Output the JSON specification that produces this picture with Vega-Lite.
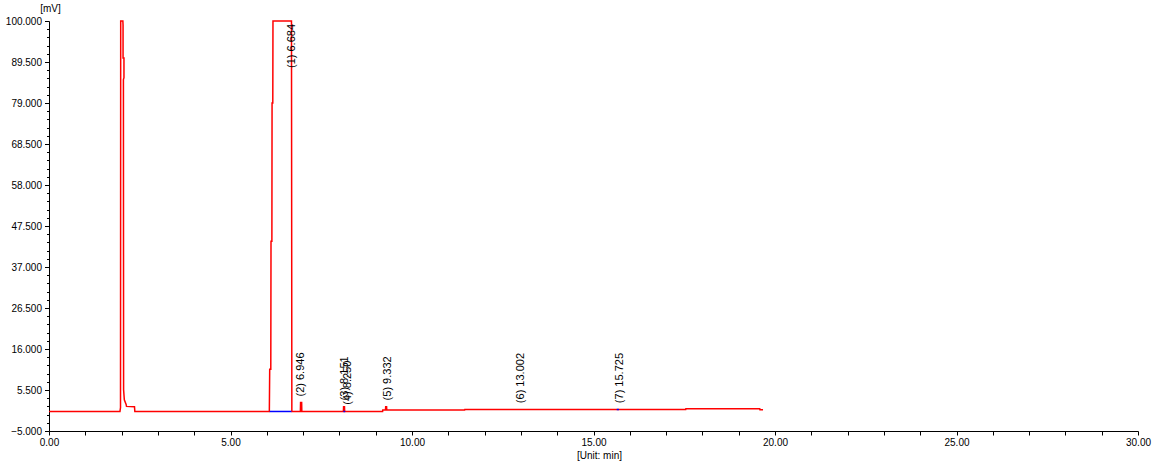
{
  "$schema": "https://vega.github.io/schema/vega-lite/v6.json",
  "autosize": "none",
  "padding": {"left": 49, "top": 21, "right": 18, "bottom": 35},
  "width": 1089,
  "height": 410,
  "background": "white",
  "config": {
    "view": {"stroke": null},
    "font": "Liberation Sans",
    "axis": {
      "domainColor": "black",
      "tickColor": "black",
      "labelColor": "black",
      "titleColor": "black",
      "labelFont": "Liberation Sans",
      "titleFont": "Liberation Sans",
      "labelFontSize": 10,
      "titleFontSize": 10,
      "titleFontWeight": "normal",
      "grid": false,
      "labelFlush": false
    }
  },
  "resolve": {"axis": {"x": "independent", "y": "independent"}},
  "datasets": {
    "trace": [
      {"t": 0, "mV": 0},
      {"t": 1.955, "mV": 0},
      {"t": 1.97, "mV": 1},
      {"t": 1.975, "mV": 100},
      {"t": 2.035, "mV": 100},
      {"t": 2.04, "mV": 99},
      {"t": 2.04, "mV": 90.5},
      {"t": 2.065, "mV": 90.5},
      {"t": 2.065, "mV": 85.5},
      {"t": 2.05, "mV": 85},
      {"t": 2.055, "mV": 5.6},
      {"t": 2.075, "mV": 3},
      {"t": 2.125, "mV": 1.8},
      {"t": 2.135, "mV": 1.3},
      {"t": 2.355, "mV": 1.2},
      {"t": 2.365, "mV": 0},
      {"t": 6.07, "mV": 0},
      {"t": 6.08, "mV": 10.8},
      {"t": 6.11, "mV": 10.8},
      {"t": 6.116, "mV": 43.6},
      {"t": 6.14, "mV": 43.6},
      {"t": 6.145, "mV": 79},
      {"t": 6.165, "mV": 79},
      {"t": 6.17, "mV": 100},
      {"t": 6.68, "mV": 100},
      {"t": 6.69, "mV": 0},
      {"t": 6.925, "mV": 0},
      {"t": 6.93, "mV": 2.3},
      {"t": 6.96, "mV": 2.3},
      {"t": 6.965, "mV": 0},
      {"t": 8.11, "mV": 0},
      {"t": 8.115, "mV": 1.2},
      {"t": 8.14, "mV": 1.2},
      {"t": 8.145, "mV": 0},
      {"t": 9.19, "mV": 0},
      {"t": 9.195, "mV": 0.35},
      {"t": 9.27, "mV": 0.35},
      {"t": 9.275, "mV": 1.2},
      {"t": 9.3, "mV": 1.2},
      {"t": 9.305, "mV": 0.35},
      {"t": 11.45, "mV": 0.35},
      {"t": 11.455, "mV": 0.5},
      {"t": 17.54, "mV": 0.5},
      {"t": 17.545, "mV": 0.7},
      {"t": 19.58, "mV": 0.7},
      {"t": 19.585, "mV": 0.45},
      {"t": 19.67, "mV": 0.45}
    ],
    "base": [
      {"seg": 1, "t": 6.08, "mV": 0},
      {"seg": 1, "t": 6.68, "mV": 0},
      {"seg": 2, "t": 8.11, "mV": 0},
      {"seg": 2, "t": 8.16, "mV": 0},
      {"seg": 3, "t": 15.64, "mV": 0.5},
      {"seg": 3, "t": 15.7, "mV": 0.5}
    ],
    "peaks": [
      {"n": 1, "t": 6.684, "mV": 100, "label": "(1) 6.684"},
      {"n": 2, "t": 6.946, "mV": 2.3, "label": "(2) 6.946"},
      {"n": 3, "t": 8.151, "mV": 1.3, "label": "(3) 8.151"},
      {"n": 4, "t": 8.25, "mV": 0.2, "label": "(4) 8.250"},
      {"n": 5, "t": 9.332, "mV": 1.3, "label": "(5) 9.332"},
      {"n": 6, "t": 13.002, "mV": 0.6, "label": "(6) 13.002"},
      {"n": 7, "t": 15.725, "mV": 0.6, "label": "(7) 15.725"}
    ]
  },
  "layer": [
    {
      "data": {"name": "trace"},
      "mark": {"type": "line", "color": "#FF0000", "strokeWidth": 1.5, "interpolate": "linear"},
      "encoding": {
        "x": {
          "field": "t", "type": "quantitative",
          "scale": {"domain": [0, 30], "nice": false, "zero": false},
          "axis": {
            "orient": "bottom",
            "title": "[Unit: min]",
            "values": [0, 5, 10, 15, 20, 25, 30],
            "format": ".2f",
            "labelOverlap": false,
            "tickSize": 4,
            "labelPadding": 2,
            "titleX": 550,
            "titleY": 24,
            "titleAlign": "center",
            "titleBaseline": "middle"
          }
        },
        "y": {
          "field": "mV", "type": "quantitative",
          "scale": {"domain": [-5, 100], "nice": false, "zero": false},
          "axis": {
            "orient": "left",
            "title": "[mV]",
            "titleAngle": 0,
            "titleX": 1,
            "titleY": -13,
            "titleAlign": "center",
            "titleBaseline": "middle",
            "values": [-5, 5.5, 16, 26.5, 37, 47.5, 58, 68.5, 79, 89.5, 100],
            "format": ".3f",
            "labelOverlap": false,
            "tickSize": 4.5,
            "labelPadding": 3
          }
        },
        "order": {"value": null}
      }
    },
    {
      "data": {"name": "base"},
      "mark": {"type": "line", "color": "#0000FF", "strokeWidth": 1.5},
      "encoding": {
        "x": {
          "field": "t", "type": "quantitative",
          "axis": {
            "orient": "bottom",
            "title": null,
            "labels": false,
            "domain": false,
            "tickSize": 4,
            "values": [1,2,3,4,6,7,8,9,11,12,13,14,16,17,18,19,21,22,23,24,26,27,28,29]
          }
        },
        "y": {
          "field": "mV", "type": "quantitative",
          "axis": {
            "orient": "left",
            "title": null,
            "labels": false,
            "domain": false,
            "tickSize": 2.5,
            "values": [-2.9,-0.8,1.3,3.4,7.6,9.7,11.8,13.9,18.1,20.2,22.3,24.4,28.6,30.7,32.8,34.9,39.1,41.2,43.3,45.4,49.6,51.7,53.8,55.9,60.1,62.2,64.3,66.4,70.6,72.7,74.8,76.9,81.1,83.2,85.3,87.4,91.6,93.7,95.8,97.9]
          }
        },
        "detail": {"field": "seg", "type": "nominal"}
      }
    },
    {
      "data": {"name": "peaks"},
      "transform": [{"filter": "datum.n > 1"}],
      "mark": {"type": "text", "angle": 270, "align": "left", "baseline": "middle", "dx": 6, "fontSize": 11, "font": "Liberation Sans", "color": "black"},
      "encoding": {
        "x": {"field": "t", "type": "quantitative", "axis": null},
        "y": {"field": "mV", "type": "quantitative", "axis": null},
        "text": {"field": "label"}
      }
    },
    {
      "data": {"name": "peaks"},
      "transform": [{"filter": "datum.n == 1"}],
      "mark": {"type": "text", "angle": 270, "align": "right", "baseline": "middle", "dx": -3, "fontSize": 11, "font": "Liberation Sans", "color": "black"},
      "encoding": {
        "x": {"field": "t", "type": "quantitative", "axis": null},
        "y": {"field": "mV", "type": "quantitative", "axis": null},
        "text": {"field": "label"}
      }
    }
  ]
}
